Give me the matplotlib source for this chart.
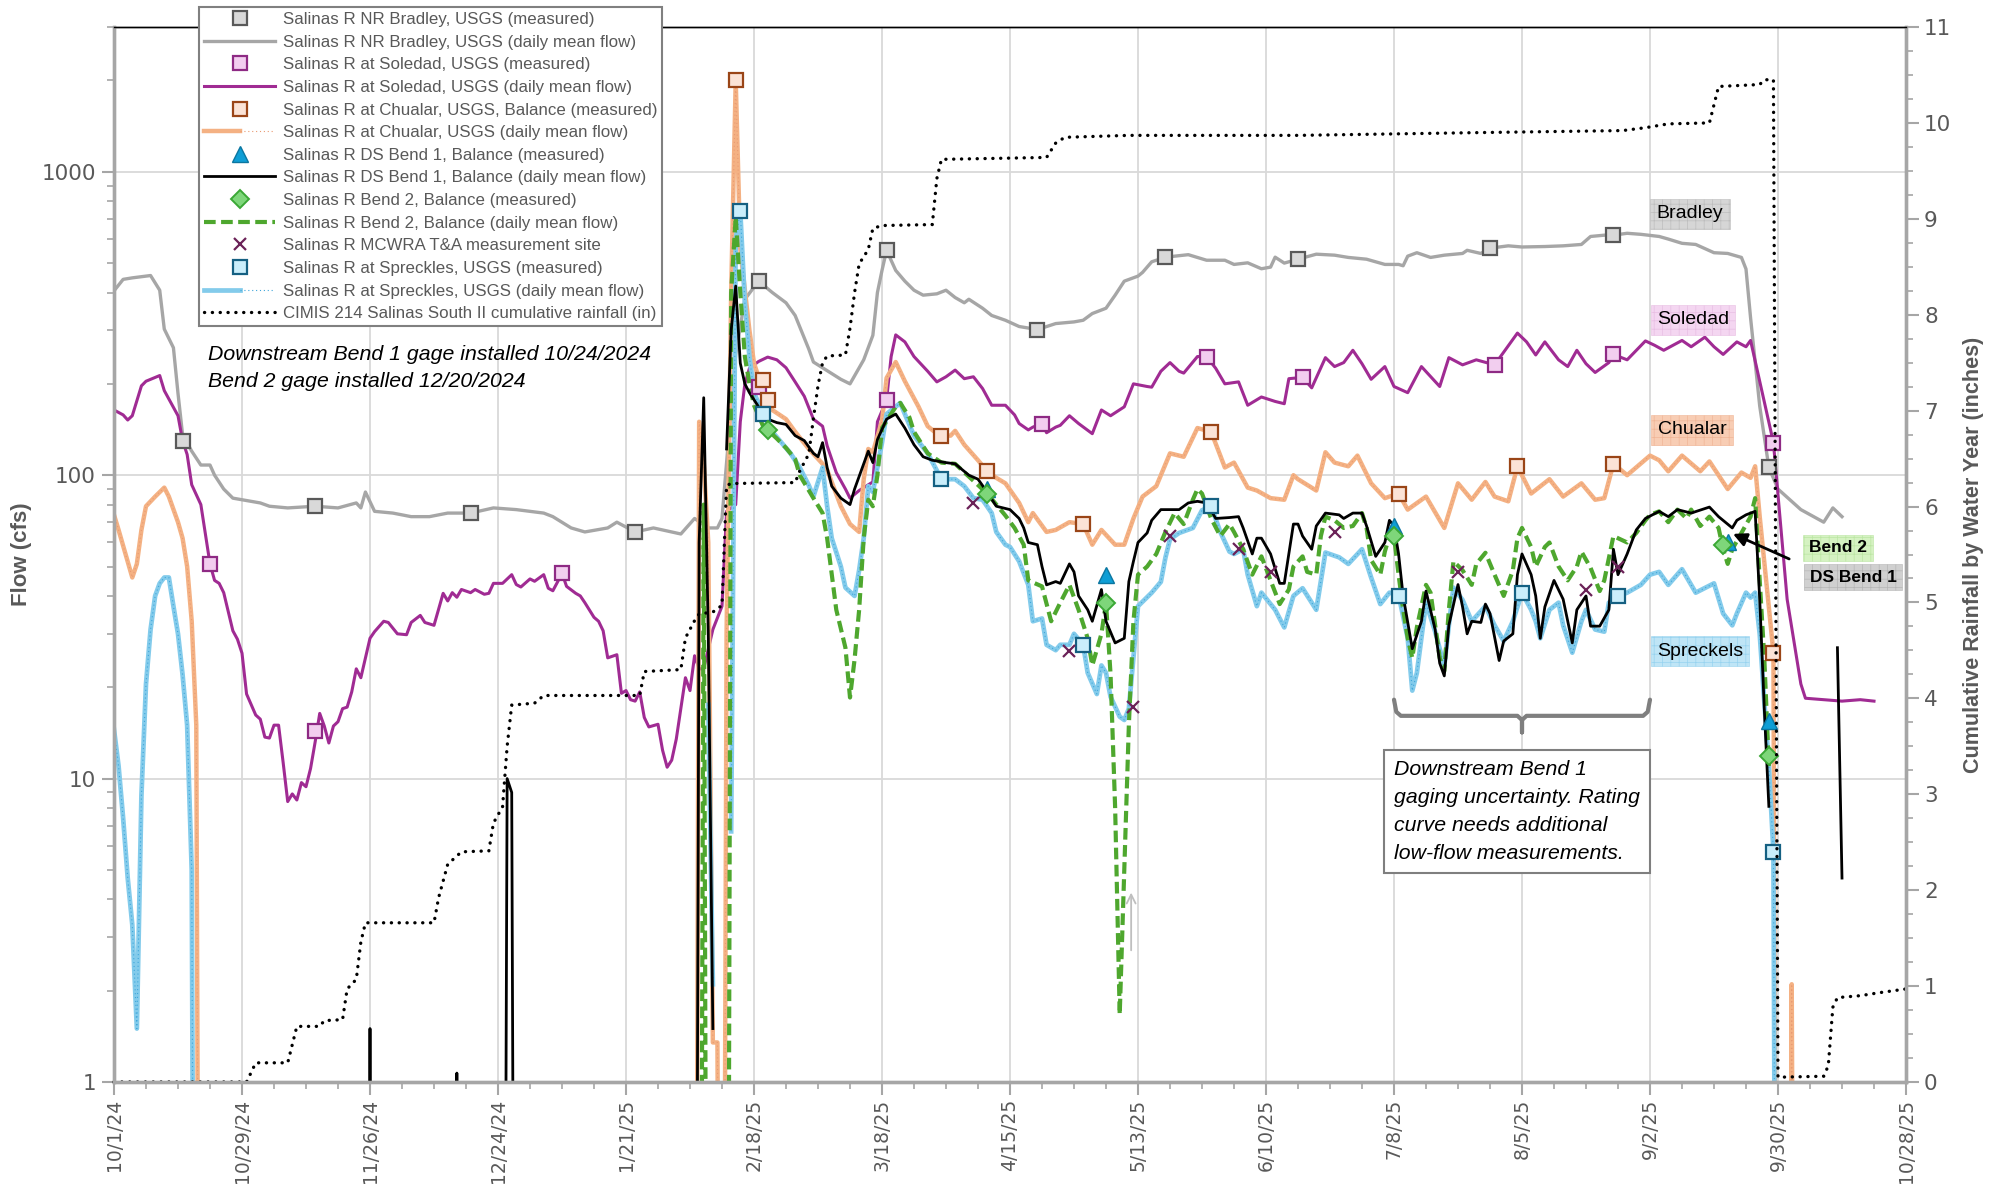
import numpy as np
import matplotlib
matplotlib.use("Agg")
import matplotlib.pyplot as plt
import matplotlib.dates as mdates
from matplotlib.legend_handler import HandlerTuple
from matplotlib.ticker import (FuncFormatter, LogLocator, MultipleLocator,
                               NullFormatter)

nan = np.nan

# day number counted from 10/1/2024, then flow (cfs); 0 = no flow (drops off the log axis)
bradley = [(0, 405), (2, 442), (4, 447), (8, 455), (10, 407), (11, 303), (13, 263), (14, 186),
           (15, 136), (17, 120), (19, 108), (21, 108), (22, 100), (24, 90), (26, 84), (28, 83),
           (32, 81), (34, 79), (38, 78), (44, 79), (49, 78), (53, 81), (54, 78), (55, 88),
           (57, 76), (61, 75), (65, 73), (69, 73), (73, 75), (78, 75), (83, 78), (88, 77),
           (94, 75), (96, 73), (100, 67), (103, 65), (108, 67), (110, 70), (114, 65), (118, 67),
           (124, 64), (127, 72), (130, 67), (132, 67), (133, 72), (134, 110), (136, 250),
           (138, 380), (141, 436), (144, 400), (147, 370), (149, 336), (152, 260), (153, 236),
           (156, 221), (159, 207), (161, 200), (164, 240), (166, 289), (167, 400), (168, 473),
           (169, 551), (171, 473), (173, 436), (175, 407), (177, 392), (180, 396), (182, 407),
           (184, 385), (186, 370), (187, 380), (190, 355), (192, 336), (195, 324), (198, 309),
           (202, 302), (206, 316), (210, 320), (212, 324), (214, 341), (217, 355), (219, 392),
           (221, 436), (224, 453), (225, 466), (227, 505), (230, 523), (235, 533), (239, 511),
           (243, 511), (245, 495), (248, 501), (251, 479), (253, 485), (254, 523), (256, 500),
           (259, 515), (263, 535), (267, 531), (270, 522), (274, 515), (278, 495), (281, 495),
           (282, 490), (283, 527), (285, 541), (288, 522), (291, 531), (295, 538), (296, 551),
           (299, 538), (301, 560), (305, 570), (308, 565), (313, 567), (317, 570), (321, 576),
           (323, 612), (326, 618), (328, 618), (331, 627), (334, 622), (338, 612), (340, 600),
           (343, 581), (346, 576), (350, 541), (353, 538), (356, 522), (357, 478), (358, 330),
           (360, 169), (362, 106), (364, 90), (369, 77), (374, 70), (376, 78), (378, 73)]

soledad = [(0, 164), (2, 158), (3, 152), (4, 157), (6, 197), (7, 204), (10, 213), (11, 190),
           (14, 157), (15, 130), (16, 117), (17, 93), (19, 80), (21, 51), (22, 45), (23, 44),
           (24, 41), (26, 30.7), (27, 28.8), (28, 25.9), (29, 19), (31, 16.2), (32, 15.7),
           (33, 13.7), (34, 13.6), (35, 15), (36, 15), (37, 11.3), (38, 8.4), (39, 8.9),
           (40, 8.5), (41, 9.7), (42, 9.4), (43, 10.8), (44, 13.2), (45, 16.4), (46, 14.9),
           (47, 13.1), (48, 14.9), (49, 15.4), (50, 17), (51, 17.2), (52, 19.3), (53, 23),
           (54, 21.5), (55, 25), (56, 29), (57, 30.5), (59, 33), (60, 32.7), (62, 30),
           (64, 29.8), (65, 32.7), (67, 34.5), (68, 32.7), (70, 32), (72, 40.8), (73, 38.5),
           (74, 41), (75, 39.6), (76, 42), (78, 41), (79, 42), (81, 40.5), (82, 40.8), (83, 44),
           (85, 44), (87, 47), (88, 43.6), (89, 42.8), (91, 45.5), (92, 44.7), (94, 47),
           (95, 42.4), (96, 41.6), (97, 44.4), (98, 47.5), (99, 43), (101, 40.8), (102, 40),
           (103, 38), (105, 34), (106, 33), (107, 30.7), (108, 25), (110, 25.6), (111, 19.1),
           (112, 19.5), (113, 18.2), (114, 18), (115, 19.3), (116, 15.9), (117, 14.8),
           (119, 15.1), (120, 12.4), (121, 10.9), (122, 11.5), (123, 13.5), (125, 21.5),
           (126, 19.5), (127, 25.4), (128, 23), (129, 23), (131, 31), (133, 37), (134, 76),
           (136, 80), (137, 150), (138, 200), (139, 225), (141, 237), (143, 245), (145, 240),
           (147, 226), (149, 203), (151, 182), (153, 153), (155, 145), (156, 125), (158, 102),
           (160, 90), (161, 84), (163, 89), (166, 95), (167, 150), (169, 177), (170, 246),
           (171, 290), (173, 275), (175, 246), (178, 220), (180, 203), (182, 211), (184, 222),
           (186, 208), (188, 211), (190, 193), (192, 170), (195, 170), (197, 158), (198, 148),
           (200, 141), (201, 144), (203, 148), (204, 138), (206, 144), (207, 146), (209, 157),
           (211, 148), (214, 137), (216, 164), (218, 157), (221, 168), (223, 200), (226, 196),
           (227, 195), (229, 220), (231, 235), (233, 220), (234, 217), (237, 246), (239, 246),
           (241, 225), (243, 200), (246, 203), (248, 170), (251, 181), (254, 175), (256, 172),
           (257, 208), (260, 210), (262, 194), (265, 244), (267, 228), (269, 235), (271, 258),
           (273, 233), (275, 207), (278, 228), (280, 196), (283, 187), (286, 228), (290, 196),
           (292, 244), (295, 231), (298, 240), (302, 231), (307, 294), (309, 275), (311, 249),
           (313, 275), (316, 240), (318, 228), (320, 258), (322, 233), (324, 218), (327, 235),
           (328, 250), (331, 240), (335, 277), (337, 268), (339, 258), (343, 278), (345, 265),
           (348, 285), (350, 265), (352, 250), (355, 275), (357, 265), (358, 278), (363, 128),
           (366, 39), (369, 20.5), (370, 18.4), (374, 18.2), (378, 18), (382, 18.2), (385, 18)]

chualar = [(0, 74), (1, 66), (4, 46), (5, 51), (6, 66), (7, 79), (9, 85), (11, 91), (12, 85),
           (14, 70), (15, 62), (16, 50), (17, 33), (18, 15), (19, 0), (127, 0), (128, 150),
           (129, 110), (130, 60), (131, 1.35), (132, 1.35), (133, 0), (134, 30), (135, 400),
           (136, 2000), (137, 556), (139, 300), (140, 234), (142, 190), (143, 177), (144, 164),
           (147, 153), (149, 139), (152, 122), (155, 109), (156, 104), (159, 79), (161, 69),
           (163, 65), (164, 97), (165, 122), (166, 119), (168, 151), (169, 209), (171, 236),
           (173, 204), (176, 168), (178, 145), (180, 137), (181, 135), (183, 135), (184, 140),
           (186, 126), (189, 112), (191, 103), (193, 98), (195, 94), (198, 81), (200, 70),
           (201, 75), (204, 65), (206, 66), (209, 70), (212, 69), (214, 59), (216, 66),
           (219, 59), (221, 59), (223, 72), (225, 85), (228, 92), (231, 118), (234, 115),
           (237, 143), (240, 139), (243, 106), (245, 110), (248, 91), (250, 89), (253, 84),
           (256, 83), (258, 100), (259, 97), (263, 89), (265, 119), (267, 110), (270, 107),
           (272, 116), (275, 94), (278, 84), (281, 87), (283, 77), (287, 85), (291, 67),
           (294, 94), (297, 83), (300, 95), (302, 85), (305, 82), (307, 107), (310, 87),
           (314, 97), (317, 85), (321, 94), (324, 83), (326, 84), (328, 109), (331, 100),
           (336, 116), (338, 112), (340, 103), (343, 116), (347, 103), (349, 111), (353, 90),
           (356, 102), (358, 98), (359, 107), (360, 73), (363, 26), (364, 0), (366, 0),
           (367, 2.1), (368, 0)]

ds_bend1 = [(23, 0), (55, 0), (56, 1.5), (57, 0), (74, 0), (75, 1.07), (76, 0), (85, 0),
            (86, 10), (87, 9), (88, 0), (127, 0), (128, 60), (129, 180), (130, 30), (131, 1.5),
            (132, nan), (134, 122), (135, 300), (136, 420), (137, 234), (138, 200), (139, 187),
            (141, 168), (143, 153), (145, 149), (147, 147), (149, 135), (151, 130), (153, 118),
            (154, 115), (155, 128), (156, 106), (157, 92), (159, 84), (161, 80), (162, 90),
            (164, 109), (165, 120), (166, 110), (167, 131), (169, 153), (171, 159), (173, 143),
            (175, 126), (177, 115), (179, 112), (182, 110), (184, 109), (187, 100), (189, 97),
            (191, 88), (193, 79), (196, 77), (198, 72), (199, 67), (200, 60), (202, 59),
            (203, 50), (204, 43.5), (206, 44.6), (207, 44), (209, 51), (210, 48), (211, 40),
            (213, 36), (214, 33), (216, 42), (217, 33), (219, 28), (221, 29), (222, 44.6),
            (223, 52), (224, 60), (226, 64.5), (227, 71), (229, 77), (231, 77), (233, 77),
            (235, 81), (237, 82), (239, 81), (241, 72), (244, 72.5), (246, 73), (247, 67),
            (249, 55), (250, 62), (251, 62), (253, 55), (255, 44), (256, 44), (257, 55),
            (258, 69), (259, 69), (260, 63), (262, 57), (263, 68), (265, 75), (268, 74),
            (269, 72), (271, 75), (273, 75), (274, 68), (276, 54), (278, 60), (279, 71),
            (280, 68), (281, 55), (282, 40), (284, 26.8), (286, 33), (287, 41.5), (289, 31),
            (290, 24), (291, 21.8), (292, 32), (294, 43.6), (295, 36.8), (296, 30), (297, 33),
            (299, 32.7), (300, 37.6), (301, 35), (303, 24.5), (304, 28.4), (306, 30), (307, 47),
            (308, 55), (310, 47), (311, 40), (312, 29), (313, 36.8), (315, 45), (317, 39),
            (319, 28), (320, 36), (322, 40), (323, 31.8), (325, 31.8), (327, 36), (328, 57),
            (329, 47), (331, 55), (333, 66), (335, 72), (338, 76), (340, 73), (342, 77),
            (345, 75), (349, 78.5), (351, 73), (354, 67), (355, 71), (357, 74), (359, 76),
            (360, 39), (361, 17), (362, 8.1), (363, nan), (377, 27), (378, 4.7)]

bend2 = [(128, 0), (129, 80), (130, 0), (134, 0), (135, 400), (136, 710), (137, 400), (138, 246),
         (139, 200), (140, 170), (142, 145), (143, 141), (145, 132), (147, 123), (149, 113),
         (150, 100), (153, 84), (155, 75), (156, 62), (158, 36), (160, 27), (161, 18.5),
         (162, 24.7), (163, 36), (164, 62), (165, 83), (166, 79), (167, 100), (168, 143),
         (171, 168), (172, 173), (174, 155), (175, 139), (178, 118), (181, 110), (184, 109),
         (187, 99), (191, 87), (193, 80), (195, 73.6), (197, 67), (199, 59), (200, 45),
         (203, 43), (205, 33), (207, 38), (209, 43.5), (211, 36), (213, 29), (214, 23.6),
         (216, 30), (217, 38), (218, 22), (219, 8), (220, 1.67), (221, 5), (222, 15), (223, 33),
         (224, 47), (226, 50), (228, 55), (230, 65), (232, 75), (234, 69), (236, 83), (237, 90),
         (238, 87), (240, 72), (242, 63), (244, 69), (245, 65), (247, 57), (249, 47), (251, 54),
         (253, 45), (255, 37.6), (257, 42), (258, 50), (260, 54), (261, 48), (263, 47),
         (264, 63), (265, 73), (267, 71), (269, 67), (271, 68), (273, 75), (274, 67),
         (275, 52.5), (277, 47), (278, 56), (279, 63), (280, 63), (281, 47), (282, 36),
         (283, 29), (284, 25), (285, 31.5), (287, 43.5), (288, 41), (289, 32), (290, 25),
         (291, 22.6), (292, 36), (293, 52), (295, 48.6), (297, 43.5), (298, 51), (300, 55.5),
         (302, 47), (304, 40), (306, 48.6), (307, 62), (308, 67), (310, 58), (311, 50),
         (313, 58), (314, 60), (316, 50), (318, 45), (320, 50), (321, 56), (323, 49.5),
         (325, 41.5), (326, 45), (328, 63), (329, 62), (331, 60), (333, 64.5), (335, 71),
         (336, 74), (338, 76), (340, 70), (342, 77), (344, 72), (345, 77), (347, 68), (349, 73),
         (351, 67), (352, 57), (353, 51), (354, 57), (356, 64.5), (358, 73), (359, 84),
         (360, 45), (361, 25), (362, 11)]

spreckels = [(0, 14.5), (1, 11), (2, 7.4), (3, 4.7), (4, 3.3), (5, 1.5), (6, 8.8), (7, 20.5),
             (8, 31), (9, 40), (10, 44), (11, 46), (12, 46), (13, 37), (14, 30), (15, 22),
             (16, 15), (17, 5), (18, 0), (129, nan), (130, 17.5), (131, 2.1), (132, nan),
             (135, 6.7), (136, 600), (137, 740), (138, 370), (139, 246), (140, 187), (142, 159),
             (144, 139), (146, 128), (148, 118), (150, 106), (152, 92.5), (153, 85), (155, 106),
             (156, 79), (157, 62), (159, 50), (160, 42.6), (162, 40), (163, 48.6), (164, 62),
             (165, 92), (166, 88), (168, 128), (169, 159), (172, 173), (173, 159), (175, 135),
             (178, 118), (181, 97), (184, 97), (186, 92), (188, 84), (190, 83), (192, 75),
             (193, 65), (195, 59), (196, 58), (198, 52), (200, 43.5), (201, 33), (203, 33.7),
             (204, 27.6), (206, 26.5), (207, 27.6), (209, 27.6), (210, 30), (212, 27.6),
             (213, 22.3), (215, 19), (216, 23.6), (217, 22.3), (218, 18.6), (220, 16),
             (221, 15.6), (222, 17), (223, 25), (224, 37), (227, 41), (229, 44.5), (230, 53.5),
             (231, 61.5), (233, 64.5), (236, 67), (238, 76.6), (240, 79), (242, 65), (244, 56),
             (245, 55), (247, 57), (248, 47), (250, 37), (251, 41), (254, 36), (256, 31.5),
             (258, 40), (260, 42.4), (263, 36), (265, 55.6), (268, 53.6), (270, 51), (273, 57),
             (275, 46), (277, 37.6), (279, 41), (281, 40.4), (283, 29), (284, 19.5),
             (285, 22.3), (287, 38), (289, 30.5), (291, 23.5), (292, 32), (293, 42.6),
             (295, 38.8), (297, 33), (300, 37), (302, 32), (304, 28.4), (306, 33), (308, 41),
             (310, 36), (311, 33), (312, 29), (314, 36), (316, 38), (317, 32), (319, 26),
             (321, 33), (322, 36), (324, 31), (326, 30.5), (327, 38), (329, 40), (331, 41),
             (334, 43.5), (336, 47), (338, 48), (340, 43.5), (343, 49), (346, 41), (350, 44),
             (352, 35), (354, 32), (355, 35), (357, 41), (358, 39.5), (359, 41), (360, 30),
             (361, 18), (362, 11), (363, 5.75), (364, 0)]

# cumulative rainfall by water year (inches), right axis
rain = [(0, 0), (29, 0), (31, 0.2), (38, 0.2), (40, 0.58), (45, 0.58), (46, 0.64), (50, 0.65),
        (51, 0.97), (53, 1.07), (54, 1.46), (55, 1.66), (70, 1.66), (71, 1.92), (73, 2.27),
        (76, 2.40), (82, 2.41), (83, 2.70), (85, 2.87), (86, 3.5), (87, 3.93), (92, 3.95),
        (94, 4.03), (115, 4.03), (116, 4.28), (124, 4.30), (125, 4.63), (127, 4.81),
        (128, 4.88), (131, 4.90), (133, 4.97), (134, 6.22), (135, 6.24), (149, 6.25),
        (150, 6.37), (152, 6.55), (153, 6.92), (154, 7.26), (155, 7.50), (156, 7.57),
        (160, 7.58), (161, 7.86), (162, 8.23), (163, 8.53), (165, 8.68), (166, 8.90),
        (168, 8.93), (179, 8.94), (180, 9.42), (181, 9.62), (204, 9.64), (206, 9.79),
        (208, 9.85), (222, 9.87), (259, 9.87), (300, 9.90), (330, 9.92), (335, 9.95),
        (340, 9.99), (349, 10.0), (351, 10.38), (360, 10.40), (361, 10.45), (363, 10.45),
        (364, 0.05), (374, 0.06), (375, 0.17), (376, 0.78), (377, 0.88), (382, 0.90),
        (386, 0.93), (392, 0.97)]

# field measurements
bradley_meas = [(15, 130), (44, 79), (78, 75), (114, 65), (141, 436), (169, 551), (202, 302),
                (230, 523), (259, 515), (301, 560), (328, 618), (362, 106)]
soledad_meas = [(21, 51), (44, 14.4), (98, 47.5), (141, 195), (169, 177), (203, 148),
                (239, 246), (260, 210), (302, 231), (328, 250), (363, 128)]
chualar_meas = [(136, 2000), (142, 206), (143, 177), (181, 135), (191, 103), (212, 69),
                (240, 139), (281, 87), (307, 107), (328, 109), (363, 26)]
ds_bend1_meas = [(191, 90), (217, 47), (280, 68), (353, 60), (362, 15.5)]
bend2_meas = [(143, 141), (191, 87), (217, 38), (280, 63), (352, 59), (362, 11.9)]
mcwra_meas = [(188, 81), (209, 26.3), (223, 17.2), (231, 63), (246, 57), (253, 48), (267, 65),
              (294, 48), (322, 41.7), (329, 50)]
spreckels_meas = [(137, 740), (142, 159), (181, 97), (212, 27.5), (240, 79), (281, 40),
                  (308, 41), (329, 40), (363, 5.75)]

legend_labels = [
    "Salinas R NR Bradley, USGS (measured)",
    "Salinas R NR Bradley, USGS (daily mean flow)",
    "Salinas R at Soledad, USGS (measured)",
    "Salinas R at Soledad, USGS (daily mean flow)",
    "Salinas R at Chualar, USGS, Balance (measured)",
    "Salinas R at Chualar, USGS (daily mean flow)",
    "Salinas R DS Bend 1, Balance (measured)",
    "Salinas R DS Bend 1, Balance (daily mean flow)",
    "Salinas R Bend 2, Balance (measured)",
    "Salinas R Bend 2, Balance (daily mean flow)",
    "Salinas R MCWRA T&A measurement site",
    "Salinas R at Spreckles, USGS (measured)",
    "Salinas R at Spreckles, USGS (daily mean flow)",
    "CIMIS 214 Salinas South II cumulative rainfall (in)",
]

BASE = mdates.date2num(np.datetime64("2024-10-01"))
SANS = ["Liberation Sans", "DejaVu Sans"]
GRAY_TXT = "#595959"
AXIS_GRAY = "#A6A6A6"

plt.rcParams["font.family"] = SANS
plt.rcParams["hatch.linewidth"] = 0.5


def xy(pts):
    d = np.array([p[0] for p in pts], dtype=float)
    v = np.array([p[1] for p in pts], dtype=float)
    return BASE + d, v


def flow_xy(pts):
    x, v = xy(pts)
    # zero flow: push far below the frame so the line falls off the bottom like Excel
    return x, np.where(v == 0, 1e-3, v)


fig = plt.figure(figsize=(20.05, 11.88), dpi=100)
ax = fig.add_axes([114 / 2005, 106 / 1188, 1792 / 2005, 1055 / 1188])
ax2 = ax.twinx()

# --- daily flow lines ---
br_line, = ax.plot(*flow_xy(bradley), color="#A6A6A6", lw=2.4, zorder=2)
so_line, = ax.plot(*flow_xy(soledad), color="#A02B93", lw=2.2, zorder=2)
ch_line, = ax.plot(*flow_xy(chualar), color="#F4B183", lw=3.2, zorder=2)
ch_hatch, = ax.plot(*flow_xy(chualar), color="#E99A72", lw=0.8, ls=(0, (1, 2.5)), zorder=2.05)
sp_line, = ax.plot(*flow_xy(spreckels), color="#83CBEB", lw=3.4, zorder=2.1)
sp_hatch, = ax.plot(*flow_xy(spreckels), color="#3FA6DA", lw=0.8, ls=(0, (1, 2.5)), zorder=2.15)
b2_line, = ax.plot(*flow_xy(bend2), color="#4EA72E", lw=3.0, ls=(0, (2.8, 1.3)), zorder=2.2)
ds_line, = ax.plot(*flow_xy(ds_bend1), color="black", lw=2.0, zorder=2.3)

# --- measurements ---
sq = dict(ls="none", marker="s", ms=10, mew=1.6, zorder=5)
br_m, = ax.plot(*xy(bradley_meas), mfc="#D9D9D9", mec="#595959", **sq)
so_m, = ax.plot(*xy(soledad_meas), mfc="#F2CEEF", mec="#8E2A84", **sq)
ch_m, = ax.plot(*xy(chualar_meas), mfc="#FBE3D6", mec="#9A4517", **sq)
sp_m, = ax.plot(*xy(spreckels_meas), mfc="#CAEEFB", mec="#156082", **sq)
ds_m, = ax.plot(*xy(ds_bend1_meas), ls="none", marker="^", ms=11, mfc="#0F9ED5",
                mec="#0B76A0", mew=1.0, zorder=5)
b2_m, = ax.plot(*xy(bend2_meas), ls="none", marker="D", ms=9, mfc="#7ED67A",
                mec="#3AA835", mew=1.4, zorder=5.1)
mc_m, = ax.plot(*xy(mcwra_meas), ls="none", marker="x", ms=9, mew=1.6, color="#6B2258",
                zorder=5)

# --- rainfall on the right axis ---
rain_line, = ax2.plot(*xy(rain), color="black", lw=2.4, ls=(0, (0.05, 2.3)),
                      dash_capstyle="round", clip_on=False)

# --- axes ---
ax.set_xlim(BASE, BASE + 392)
ax.set_yscale("log")
ax.set_ylim(1, 3000)
ax2.set_ylim(0, 11)

ax.set_xticks(BASE + np.arange(0, 393, 28))
ax.set_xticks(BASE + np.arange(0, 393, 7), minor=True)


def date_label(v, pos):
    d = mdates.num2date(v)
    return f"{d.month}/{d.day}/{d.year % 100}"


ax.xaxis.set_major_formatter(FuncFormatter(date_label))
ax.yaxis.set_major_locator(LogLocator(base=10, numticks=10))
ax.yaxis.set_minor_locator(LogLocator(base=10, subs=np.arange(2, 10), numticks=40))
ax.yaxis.set_major_formatter(FuncFormatter(lambda v, p: f"{v:g}"))
ax.yaxis.set_minor_formatter(NullFormatter())
ax2.yaxis.set_major_locator(MultipleLocator(1))
ax2.yaxis.set_minor_locator(MultipleLocator(0.25))

ax.grid(True, which="major", color="#D9D9D9", lw=1.3)
ax.set_axisbelow(True)

for a in (ax, ax2):
    for side in ("left", "right", "bottom"):
        a.spines[side].set_color(AXIS_GRAY)
        a.spines[side].set_linewidth(2.4)
    a.spines["top"].set_color("black")
    a.spines["top"].set_linewidth(1.0)
    a.tick_params(which="both", direction="out", color=AXIS_GRAY, labelcolor=GRAY_TXT,
                  labelfontfamily="DejaVu Sans")
    a.tick_params(which="major", length=9, width=1.5, labelsize=15.5)
    a.tick_params(which="minor", length=5, width=1.2)
ax.tick_params(axis="x", which="major", labelrotation=90, labelsize=13.5, pad=3)
ax.tick_params(axis="y", pad=4)
ax2.tick_params(axis="y", pad=4)

ax.set_ylabel("Flow (cfs)", fontsize=16, fontweight="bold", color=GRAY_TXT)
ax.yaxis.set_label_coords(-0.046, 0.5)
ax2.set_ylabel("Cumulative Rainfall by Water Year (inches)", fontsize=15.5,
               fontweight="bold", color=GRAY_TXT)
ax2.yaxis.set_label_coords(1.032, 0.5)


# --- annotations ---
def frac(xpx, ypx):
    # pixel position in the 2005x1188 picture -> axes fraction
    return (xpx - 114) / 1792, (1082 - ypx) / 1055


ax.text(*frac(208, 345), "Downstream Bend 1 gage installed 10/24/2024\n"
        "Bend 2 gage installed 12/20/2024", transform=ax.transAxes, ha="left", va="top",
        fontsize=15.3, style="italic", linespacing=1.55, zorder=8)

ax.text(*frac(1394, 760), "Downstream Bend 1\ngaging uncertainty. Rating\n"
        "curve needs additional\nlow-flow measurements.", transform=ax.transAxes,
        ha="left", va="top", fontsize=15.3, style="italic", linespacing=1.6, zorder=8,
        bbox=dict(boxstyle="square,pad=0.45", fc="white", ec="#7F7F7F", lw=1.5))

tags = [("Bradley", (1690, 214), "#D6D6D6", "#BDBDBD", "normal"),
        ("Soledad", (1693, 320), "#F4D6F1", "#E8BEE3", "normal"),
        ("Chualar", (1692, 430), "#F8CDB4", "#F0B596", "normal"),
        ("Spreckels", (1700, 651), "#BFE5F6", "#97D3EF", "normal"),
        ("Bend 2", (1838, 548), "#D5F2C2", "#BBE6A3", "bold"),
        ("DS Bend 1", (1853, 577), "#D0D0D0", "#B5B5B5", "bold")]
for name, pos, fc, hc, weight in tags:
    ax.text(*frac(*pos), name, transform=ax.transAxes, ha="center", va="center",
            fontsize=14 if weight == "normal" else 12.5, fontweight=weight, color="black",
            zorder=9, bbox=dict(boxstyle="square,pad=0.32", fc=fc, ec=hc, lw=0.4, hatch="++"))

# brace over the uncertain low-flow period (7/8/25 - 9/2/25)
brace_day = np.array([280, 280.5, 281.5, 307, 308, 308, 308, 309, 334.5, 335.5, 336])
brace_cfs = np.array([18.2, 16.6, 16.1, 16.1, 15.6, 14.2, 15.6, 16.1, 16.1, 16.6, 18.2])
ax.plot(BASE + brace_day, brace_cfs, color="#7F7F7F", lw=3, solid_joinstyle="round",
        solid_capstyle="round", zorder=6)

ax.annotate("", xy=(BASE + 353.6, 64.6), xytext=(BASE + 367, 52.5),
            arrowprops=dict(arrowstyle="-|>", color="black", lw=2, mutation_scale=20),
            zorder=7)
ax.annotate("", xy=(BASE + 222.5, 4.3), xytext=(BASE + 222.5, 2.66),
            arrowprops=dict(arrowstyle="->", color="#BFBFBF", lw=1.3, mutation_scale=16),
            zorder=7)

# --- legend ---
handles = [br_m, br_line, so_m, so_line, ch_m, (ch_line, ch_hatch), ds_m, ds_line, b2_m,
           b2_line, mc_m, sp_m, (sp_line, sp_hatch), rain_line]
leg = ax2.legend(handles, legend_labels, loc="upper left", bbox_to_anchor=(0.0474, 1.019),
                 bbox_transform=ax.transAxes, borderaxespad=0, frameon=True, fancybox=False,
                 framealpha=1, edgecolor="#808080", handlelength=4.2, handletextpad=0.45,
                 labelspacing=0.45, borderpad=0.3, prop=dict(size=12.2),
                 labelcolor=GRAY_TXT, handler_map={tuple: HandlerTuple(ndivide=None, pad=0)})
leg.get_frame().set_linewidth(1.5)
leg.set_zorder(20)

fig.savefig("out.png", dpi=100)
